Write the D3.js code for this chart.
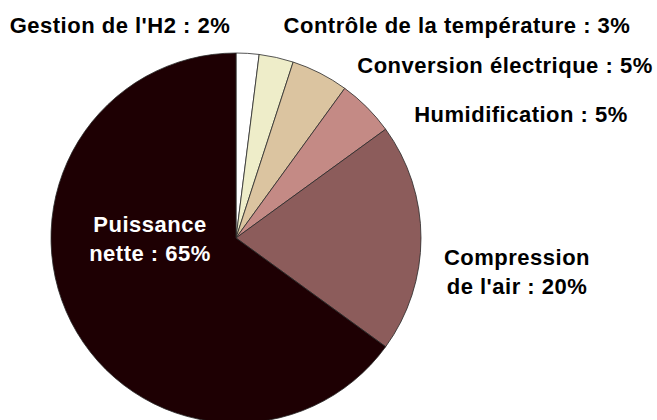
<!DOCTYPE html>
<html>
  <head>
    <meta charset="utf-8">
    <title>Répartition de la puissance</title>
    <script src="https://d3js.org/d3.v7.min.js"></script>
    <style>
      body { margin: 0; background: #fff; }
      text { font-family: "Liberation Sans", Arial, sans-serif; font-weight: bold; letter-spacing: 0.5px; }
    </style>
  </head>
  <body>
    <div id="chart"></div>
    <script>
      // slices, clockwise from 12 o'clock
      var categories = ["Gestion de l'H2", "Contrôle de la température", "Conversion électrique",
                        "Humidification", "Compression de l'air", "Puissance nette"];
      var values = [2, 3, 5, 5, 20, 65];
      var colors = ["#ffffff", "#eeedc9", "#dbc4a0", "#c48a85", "#8c5c5b", "#1e0003"];
      var labelLines = [
        ["Gestion de l'H2 : 2%"],
        ["Contrôle de la température : 3%"],
        ["Conversion électrique : 5%"],
        ["Humidification : 5%"],
        ["Compression", "de l'air : 20%"],
        ["Puissance", "nette : 65%"]
      ];

      var width = 657, height = 420;
      var cx = 236, cy = 238, radius = 185;

      // label placement (centre x, first baseline y)
      var labelPos = [[120, 33], [457, 33], [505, 73], [521, 122], [517, 265], [150, 232]];
      var labelFill = ["#000", "#000", "#000", "#000", "#000", "#fff"];

      var svg = d3.select("#chart").append("svg")
        .attr("width", width)
        .attr("height", height);

      var pie = d3.pie().sort(null).value(function(d) { return d; });
      var arc = d3.arc().innerRadius(0).outerRadius(radius);

      var g = svg.append("g").attr("transform", "translate(" + cx + "," + cy + ")");

      g.selectAll("path")
        .data(pie(values))
        .enter()
        .append("path")
        .attr("d", arc)
        .attr("fill", function(d, i) { return colors[i]; })
        .attr("stroke", "#2a2a2a")
        .attr("stroke-width", 0.8);

      var labels = svg.selectAll("text.label")
        .data(categories)
        .enter()
        .append("text")
        .attr("class", "label")
        .attr("text-anchor", "middle")
        .attr("font-size", 22)
        .attr("fill", function(d, i) { return labelFill[i]; })
        .attr("x", function(d, i) { return labelPos[i][0]; })
        .attr("y", function(d, i) { return labelPos[i][1]; });

      labels.each(function(d, i) {
        var t = d3.select(this);
        labelLines[i].forEach(function(line, j) {
          t.append("tspan")
            .attr("x", labelPos[i][0])
            .attr("dy", j === 0 ? 0 : 29)
            .text(line);
        });
      });
    </script>
  </body>
</html>
